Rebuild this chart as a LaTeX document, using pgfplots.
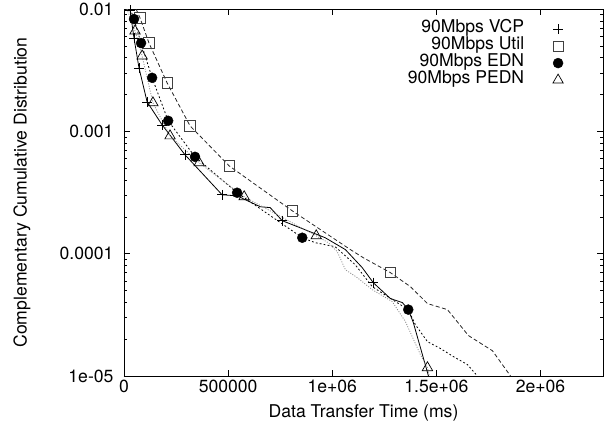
\documentclass[border=0pt]{standalone}
\usepackage{pgfplots}
\pgfplotsset{compat=1.18}
\usepackage{fontspec}
\setmainfont{TeX Gyre Heros}
\begin{document}
\begin{tikzpicture}[font=\fontsize{17.6}{20}\selectfont]
\useasboundingbox (-124pt,-58pt) rectangle (485pt,376pt);
\begin{axis}[
  at={(0,0)}, anchor=south west,
  scale only axis, width=479pt, height=367pt,
  ymode=log, ymin=1e-5, ymax=0.01, xmin=0, xmax=2300000,
  xtick={0,500000,1000000,1500000,2000000},
  xticklabels={0,500000,1e+06,1.5e+06,2e+06},
  ytick={1e-5,1e-4,1e-3,1e-2},
  yticklabels={1e-05,0.0001,0.001,0.01},
  scaled x ticks=false,
  tick align=inside,
  major tick length=6pt, minor tick length=3pt,
  every tick/.style={black, line width=0.6pt},
  axis line style={line width=0.8pt},
  yticklabel style={xshift=-7pt},
  xlabel={Data Transfer Time (ms)},
  ylabel={Complementary Cumulative Distribution},
  xlabel style={at={(axis description cs:0.5,0)}, anchor=base, yshift=-41pt},
  ylabel style={at={(axis description cs:-0.2130,0.5)}, anchor=center},
  legend plot pos=right,
  legend cell align=right,
  legend style={draw=none, fill=none, at={(0.9175,0.969)}, anchor=north east,
    inner sep=0pt, row sep=0pt, column sep=28pt,
    nodes={inner sep=0.7pt, text height=11.6pt, text depth=4pt}},
]
% ---- lines (no legend) ----
\addplot[black, line width=0.8pt, forget plot] coordinates {
(12000,1.0e-2) (29000,9.82e-3) (48000,5.79e-3) (72000,3.30e-3) (111000,1.74e-3)
(183000,1.13e-3) (293000,6.43e-4) (471000,3.03e-4) (543000,2.97e-4) (654000,2.42e-4)
(702000,2.38e-4) (760000,1.86e-4) (822000,1.69e-4) (966000,1.35e-4) (1063000,1.08e-4)
(1144000,7.69e-5) (1197000,5.79e-5) (1279000,4.30e-5) (1337000,3.98e-5) (1365000,3.49e-5)
(1389000,2.74e-5) (1462000,1.0e-5)};
\addplot[black!85, line width=0.8pt, dash pattern=on 4pt off 2.5pt, forget plot] coordinates {
(58000,1.0e-2) (77000,8.45e-3) (120000,5.27e-3) (207000,2.49e-3) (317000,1.11e-3)
(505000,5.22e-4) (808000,2.24e-4) (1087000,1.08e-4) (1149000,9.27e-5) (1279000,7.00e-5)
(1375000,5.38e-5) (1457000,3.91e-5) (1553000,3.49e-5) (1654000,2.14e-5) (1769000,1.61e-5)
(1856000,1.0e-5)};
\addplot[black, line width=0.8pt, dash pattern=on 1.8pt off 2.2pt, forget plot] coordinates {
(30000,1.0e-2) (48000,8.28e-3) (82000,5.27e-3) (135000,2.74e-3) (212000,1.22e-3)
(341000,6.19e-4) (543000,3.15e-4) (856000,1.35e-4) (918000,1.23e-4) (1014000,1.14e-4)
(1110000,8.13e-5) (1192000,5.38e-5) (1303000,4.06e-5) (1365000,3.49e-5) (1399000,2.63e-5)
(1457000,1.91e-5) (1519000,1.68e-5) (1582000,1.44e-5) (1649000,1.24e-5) (1697000,1.0e-5)};
\addplot[black!45, line width=0.8pt, dash pattern=on 1pt off 1.5pt, forget plot] coordinates {
(14000,1.0e-2) (53000,6.61e-3) (87000,4.13e-3) (139000,1.71e-3) (221000,9.18e-4)
(361000,5.53e-4) (577000,2.92e-4) (923000,1.40e-4) (981000,1.23e-4) (1024000,1.04e-4)
(1063000,7.40e-5) (1120000,6.37e-5) (1192000,5.08e-5) (1288000,4.06e-5) (1351000,2.79e-5)
(1423000,1.50e-5) (1457000,1.17e-5) (1466000,1.0e-5)};
% ---- markers ----
\addplot[only marks, mark=+, mark size=5pt, black, line width=0.7pt] coordinates {
(29000,9.82e-3) (48000,5.79e-3) (72000,3.30e-3) (111000,1.74e-3) (183000,1.13e-3)
(293000,6.43e-4) (471000,3.03e-4) (760000,1.86e-4) (1197000,5.79e-5)};
\addlegendentry{90Mbps VCP}
\addplot[only marks, mark=square, mark size=5.2pt, black!75, line width=0.7pt] coordinates {
(77000,8.45e-3) (120000,5.27e-3) (207000,2.49e-3) (317000,1.11e-3) (505000,5.22e-4)
(808000,2.24e-4) (1279000,7.00e-5)};
\addlegendentry{90Mbps Util}
\addplot[only marks, mark=*, mark size=5pt, black] coordinates {
(48000,8.28e-3) (82000,5.27e-3) (135000,2.74e-3) (212000,1.22e-3) (341000,6.19e-4)
(543000,3.15e-4) (856000,1.35e-4) (1365000,3.49e-5)};
\addlegendentry{90Mbps EDN}
\addplot[only marks, mark=triangle, mark size=6pt, black, line width=0.7pt] coordinates {
(53000,6.61e-3) (87000,4.13e-3) (139000,1.71e-3) (221000,9.18e-4) (361000,5.53e-4)
(577000,2.92e-4) (923000,1.40e-4) (1457000,1.17e-5)};
\addlegendentry{90Mbps PEDN}
\end{axis}
\end{tikzpicture}
\end{document}
